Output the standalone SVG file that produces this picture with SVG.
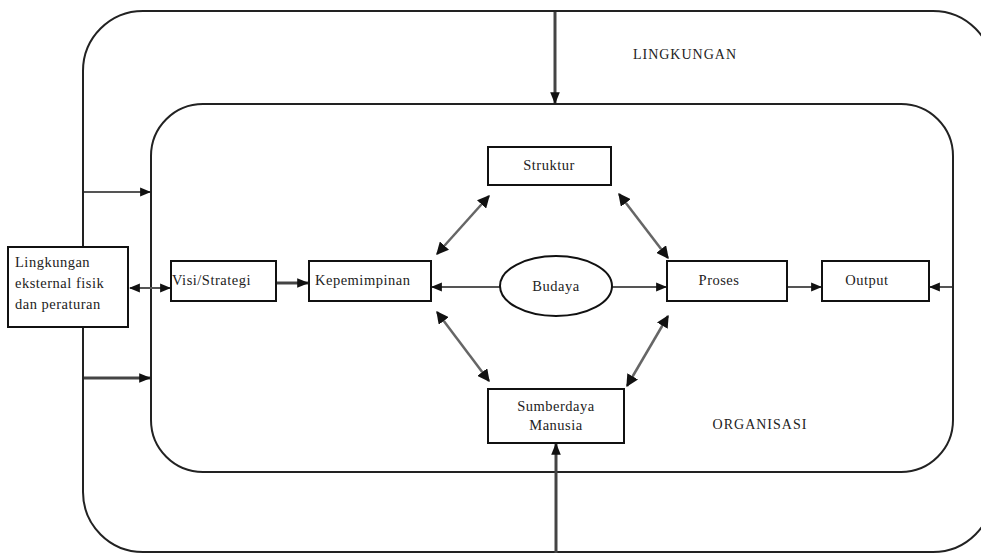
<svg xmlns="http://www.w3.org/2000/svg" width="981" height="554" viewBox="0 0 981 554">
<defs>
<style>
text{font-family:"Liberation Serif","Times New Roman",serif;font-size:14.5px;fill:#222;letter-spacing:0.5px}
.frame{fill:none;stroke:#222;stroke-width:2}
.box{fill:#fff;stroke:#111;stroke-width:2}
.c{stroke:#555;stroke-width:2;fill:none}
.cd{stroke:#666;stroke-width:2.5;fill:none}
.ct{stroke:#444;stroke-width:3;fill:none}
.cap{font-size:14px;letter-spacing:1px}
</style>
<marker id="ah" viewBox="0 0 10 10" refX="9" refY="5" markerWidth="5.5" markerHeight="5.5" orient="auto-start-reverse" markerUnits="strokeWidth">
<path d="M0,1 L10,5 L0,9 Z" fill="#111"/>
</marker>
<marker id="ahd" viewBox="0 0 10 10" refX="9" refY="5" markerWidth="5" markerHeight="5" orient="auto-start-reverse" markerUnits="strokeWidth">
<path d="M0,0 L10,5 L0,10 Z" fill="#111"/>
</marker>
<marker id="ahs" viewBox="0 0 10 10" refX="9" refY="5" markerWidth="4" markerHeight="4" orient="auto-start-reverse" markerUnits="strokeWidth">
<path d="M0,1 L10,5 L0,9 Z" fill="#111"/>
</marker>
</defs>
<rect width="981" height="554" fill="#fff"/>
<g id="lingkungan-frame">
<rect class="frame" x="83" y="11" width="910" height="541" rx="60"/>
<text class="cap" x="685" y="59" text-anchor="middle">LINGKUNGAN</text>
</g>
<g id="organisasi-frame">
<rect class="frame" x="151" y="104" width="802" height="368" rx="52"/>
<text class="cap" x="760" y="429" text-anchor="middle">ORGANISASI</text>
</g>
<g id="connectors">
<line class="ct" x1="555" y1="12" x2="555" y2="103" marker-end="url(#ahs)"/>
<line class="ct" x1="556" y1="553" x2="556" y2="444" marker-end="url(#ahs)"/>
<line class="c" x1="84" y1="192" x2="150" y2="192" marker-end="url(#ah)"/>
<line class="ct" x1="84" y1="378" x2="150" y2="378" marker-end="url(#ahs)"/>
<line class="c" x1="151" y1="288" x2="130" y2="288" marker-end="url(#ah)"/>
<line class="c" x1="151" y1="288" x2="170" y2="288" marker-end="url(#ah)"/>
<line class="ct" x1="277" y1="283" x2="308" y2="283" marker-end="url(#ahs)"/>
<line class="c" x1="500" y1="287" x2="432" y2="287" marker-end="url(#ah)"/>
<line class="c" x1="612" y1="287" x2="666" y2="287" marker-end="url(#ah)"/>
<line class="c" x1="788" y1="287" x2="821" y2="287" marker-end="url(#ah)"/>
<line class="c" x1="952" y1="287" x2="930" y2="287" marker-end="url(#ah)"/>
<line class="cd" x1="489" y1="196" x2="437" y2="254" marker-start="url(#ahd)" marker-end="url(#ahd)"/>
<line class="cd" x1="619" y1="194" x2="668" y2="258" marker-start="url(#ahd)" marker-end="url(#ahd)"/>
<line class="cd" x1="437" y1="312" x2="489" y2="381" marker-start="url(#ahd)" marker-end="url(#ahd)"/>
<line class="cd" x1="668" y1="316" x2="627" y2="386" marker-start="url(#ahd)" marker-end="url(#ahd)"/>
</g>
<g id="lingkungan-eksternal">
<rect class="box" x="8" y="247" width="120" height="80"/>
<text x="15" y="267">Lingkungan</text>
<text x="15" y="288">eksternal fisik</text>
<text x="15" y="309">dan peraturan</text>
</g>
<g id="visi-strategi">
<rect class="box" x="171" y="261" width="105" height="40"/>
<text x="172" y="285">Visi/Strategi</text>
</g>
<g id="kepemimpinan">
<rect class="box" x="309" y="261" width="122" height="40"/>
<text x="315" y="285">Kepemimpinan</text>
</g>
<g id="budaya">
<ellipse class="box" cx="556" cy="286" rx="56" ry="30"/>
<text x="556" y="291" text-anchor="middle">Budaya</text>
</g>
<g id="struktur">
<rect class="box" x="488" y="147" width="123" height="38"/>
<text x="549" y="170" text-anchor="middle">Struktur</text>
</g>
<g id="sumberdaya-manusia">
<rect class="box" x="488" y="389" width="136" height="54"/>
<text x="556" y="411" text-anchor="middle">Sumberdaya</text>
<text x="556" y="430" text-anchor="middle">Manusia</text>
</g>
<g id="proses">
<rect class="box" x="667" y="261" width="120" height="40"/>
<text x="719" y="285" text-anchor="middle">Proses</text>
</g>
<g id="output">
<rect class="box" x="822" y="261" width="107" height="40"/>
<text x="867" y="285" text-anchor="middle">Output</text>
</g>
</svg>
